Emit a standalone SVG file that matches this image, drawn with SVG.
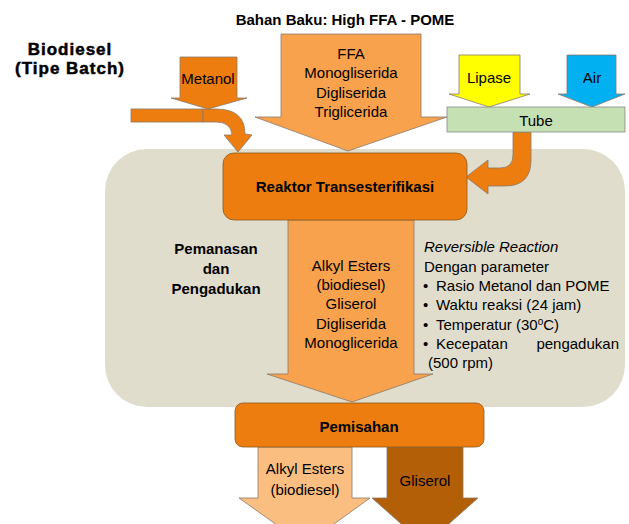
<svg xmlns="http://www.w3.org/2000/svg" width="629" height="524" viewBox="0 0 629 524">
<style>
text{font-family:"Liberation Sans",Arial,sans-serif;fill:#000}
.t{font-size:15px;text-anchor:middle}
.b{font-weight:bold}
.big{font-size:17px;letter-spacing:1px;stroke:#000;stroke-width:0.5}
.sh{stroke:#8a7a6a;stroke-width:0.8}
.or{fill:#ed7d0e}
.lo{fill:#f9a24d}
</style>
<rect width="629" height="524" fill="#fff"/>
<g id="background"><rect x="105" y="149" width="520" height="258" rx="42" fill="#e1ddcc"/></g>
<g id="title"><text x="345" y="25" class="t b">Bahan Baku: High FFA - POME</text></g>
<g id="biodiesel"><text x="70" y="55" class="t b big">Biodiesel</text><text x="70" y="74" class="t b big">(Tipe Batch)</text></g>
<g id="connectors">
<path id="metanol-arrow" class="or sh" d="M180,57 L237,57 L237,98 L247,98 L208,109 L171,98 L180,98 Z"/>
<rect x="131" y="109" width="72" height="13" class="or sh"/>
<path class="or sh" d="M203,109 L216,109 Q245,109 245,134 L252,135 L238,152 L224,135 L232,135 Q231,122 216,122 L203,122 Z"/>
<path id="ffa-arrow" class="lo sh" d="M281,34 L421,34 L421,117 L447,117 L348,151 L255,117 L281,117 Z"/>
<path id="lipase-arrow" fill="#ffff00" class="sh" d="M459,55 L520,55 L520,94 L530,94 L489,107 L449,94 L459,94 Z"/>
<path id="air-arrow" fill="#00b0f0" class="sh" d="M567,55 L616,55 L616,94 L625,94 L592,107 L558,94 L567,94 Z"/>
<path id="tube-arrow" class="or sh" d="M513,132 L531,132 L531,160 Q531,186 505,186 L488,186 L488,194 L466,177 L488,160 L488,168 L500,168 Q513,168 513,155 Z"/>
<path id="reaktor-arrow" class="lo sh" d="M288,220 L414,220 L414,374 L433,374 L352,402 L267,374 L288,374 Z"/>
<path id="alkyl-arrow" fill="#fabf80" class="sh" d="M258,447 L352,447 L352,498 L370,498 L305,545 L239,498 L258,498 Z"/>
<path id="gliserol-arrow" fill="#b35f08" class="sh" d="M387,447 L463,447 L463,498 L478,498 L425,545 L372,498 L387,498 Z"/>
</g>
<g id="metanol"><text x="208" y="84" class="t">Metanol</text></g>
<g id="ffa"><text x="351" y="59" class="t">FFA</text><text x="351" y="78" class="t">Monogliserida</text><text x="351" y="98" class="t">Digliserida</text><text x="351" y="117" class="t">Triglicerida</text></g>
<g id="lipase"><text x="489" y="83" class="t">Lipase</text></g>
<g id="air"><text x="592" y="83" class="t">Air</text></g>
<g id="tube"><rect x="447" y="107" width="178" height="25" fill="#c5e0b3" stroke="#8a8a8a" stroke-width="0.8"/><text x="536" y="126" class="t">Tube</text></g>
<g id="reaktor"><rect x="223" y="153" width="244" height="67" rx="11" class="or" stroke="#8a5a20" stroke-width="0.8"/><text x="345" y="192" class="t b">Reaktor Transesterifikasi</text></g>
<g id="products"><text x="351" y="271" class="t">Alkyl Esters</text><text x="351" y="290" class="t">(biodiesel)</text><text x="351" y="309" class="t">Gliserol</text><text x="351" y="329" class="t">Digliserida</text><text x="351" y="348" class="t">Monoglicerida</text></g>
<g id="pemanasan"><text x="216" y="254" class="t b">Pemanasan</text><text x="216" y="274" class="t b">dan</text><text x="216" y="294" class="t b">Pengadukan</text></g>
<g id="parameter" font-size="15">
<text x="424" y="252" font-style="italic">Reversible Reaction</text>
<text x="424" y="272">Dengan parameter</text>
<text x="423" y="291">•</text><text x="436" y="291">Rasio Metanol dan POME</text>
<text x="423" y="310">•</text><text x="436" y="310">Waktu reaksi (24 jam)</text>
<text x="423" y="330">•</text><text x="436" y="330">Temperatur (30<tspan font-size="10" dy="-5">o</tspan><tspan dy="5">C)</tspan></text>
<text x="423" y="349">•</text><text x="436" y="349">Kecepatan</text><text x="619" y="349" text-anchor="end">pengadukan</text>
<text x="428" y="368">(500 rpm)</text>
</g>
<g id="pemisahan"><rect x="235" y="403" width="249" height="44" rx="8" class="or" stroke="#8a5a20" stroke-width="0.8"/><text x="359" y="432" class="t b">Pemisahan</text></g>
<g id="alkyl"><text x="305" y="474" class="t">Alkyl Esters</text><text x="305" y="495" class="t">(biodiesel)</text></g>
<g id="gliserol"><text x="425" y="486" class="t">Gliserol</text></g>
</svg>
